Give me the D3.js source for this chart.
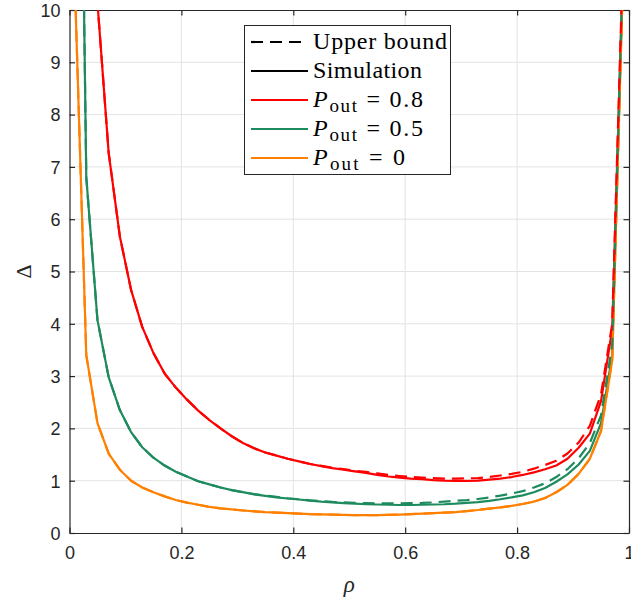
<!DOCTYPE html>
<html>
  <head>
    <meta charset="utf-8">
    <title></title>
    <script src="https://d3js.org/d3.v7.min.js"></script>
    <style>
    body{margin:0; background:white;}
    svg{display:block; background-color:white;}
    .tick text{font-family:"Liberation Sans", Arial, sans-serif; font-size:18px; fill:#262626;}
    </style>
  </head>
  <body>
    <script>
    // sample points rho = 0.01, 0.03, ..., 0.99
    var rho = [0.01,0.03,0.05,0.07,0.09,0.11,0.13,0.15,0.17,0.19,
               0.21,0.23,0.25,0.27,0.29,0.31,0.33,0.35,0.37,0.39,
               0.41,0.43,0.45,0.47,0.49,0.51,0.53,0.55,0.57,0.59,
               0.61,0.63,0.65,0.67,0.69,0.71,0.73,0.75,0.77,0.79,
               0.81,0.83,0.85,0.87,0.89,0.91,0.93,0.95,0.97,0.99];

    // simulation, P_out = 0.8 / 0.5 / 0
    var simRed = [48,16.5,10.14,7.27,5.67,4.65,3.94,3.44,3.05,2.78,
                  2.55,2.34,2.16,2.00,1.85,1.72,1.62,1.54,1.48,1.42,
                  1.37,1.32,1.28,1.24,1.21,1.18,1.15,1.11,1.08,1.06,
                  1.04,1.03,1.01,1.00,0.995,0.995,1.00,1.02,1.04,1.07,
                  1.11,1.16,1.22,1.29,1.42,1.63,1.90,2.52,3.9,11.1];
    var simGreen = [22.8,6.8,4.07,2.98,2.35,1.93,1.64,1.44,1.29,1.17,
                    1.08,0.99,0.93,0.87,0.82,0.78,0.74,0.71,0.68,0.66,
                    0.64,0.62,0.60,0.585,0.57,0.56,0.55,0.545,0.54,0.535,
                    0.535,0.54,0.545,0.55,0.56,0.575,0.59,0.615,0.645,0.68,
                    0.72,0.78,0.86,0.98,1.12,1.31,1.57,2.1,3.4,11.0];
    var simOrange = [10.35,3.4,2.1,1.52,1.21,1.0,0.87,0.78,0.70,0.63,
                     0.58,0.54,0.50,0.47,0.45,0.43,0.415,0.40,0.39,0.38,
                     0.37,0.36,0.355,0.35,0.345,0.343,0.342,0.343,0.347,0.352,
                     0.36,0.37,0.38,0.39,0.40,0.42,0.44,0.465,0.49,0.52,
                     0.555,0.60,0.67,0.78,0.92,1.13,1.42,1.95,3.3,10.9];

    // upper bound
    var boundRed = [48,16.5,10.14,7.27,5.67,4.65,3.94,3.44,3.05,2.78,
                    2.55,2.34,2.16,2.00,1.85,1.72,1.62,1.54,1.48,1.42,
                    1.37,1.32,1.285,1.25,1.22,1.19,1.17,1.14,1.11,1.09,
                    1.07,1.06,1.05,1.04,1.04,1.045,1.05,1.07,1.10,1.13,
                    1.17,1.23,1.30,1.38,1.52,1.73,2.05,2.65,4.0,11.3];
    var boundGreen = [22.8,6.8,4.07,2.98,2.35,1.93,1.64,1.44,1.29,1.17,
                      1.08,0.99,0.93,0.87,0.82,0.78,0.745,0.715,0.69,0.665,
                      0.645,0.625,0.61,0.595,0.585,0.575,0.57,0.565,0.565,0.565,
                      0.57,0.575,0.585,0.60,0.615,0.63,0.65,0.68,0.715,0.755,
                      0.80,0.87,0.95,1.07,1.22,1.43,1.72,2.25,3.6,11.2];
    var boundOrange = simOrange;

    var xTicks = [0,0.2,0.4,0.6,0.8,1];
    var xTickLabels = ["0","0.2","0.4","0.6","0.8","1"];
    var yTicks = [0,1,2,3,4,5,6,7,8,9,10];

    var legendNames = ["Upper bound","Simulation","0.8","0.5","0"];

    var width = 631, height = 597;
    var mLeft = 69.5, mRight = 629, mTop = 10, mBottom = 533;
    var red = "#ff0000", green = "#1e8b5e", orange = "#ff8000";

    var svg = d3.select("body").append("svg").attr("width", width).attr("height", height);

    var x = d3.scaleLinear().domain([0,1]).range([mLeft,mRight]);
    var y = d3.scaleLinear().domain([0,10]).range([mBottom,mTop]);

    // grid
    svg.append("g").selectAll("line").data(xTicks.slice(1,-1)).enter().append("line")
      .attr("x1", d=>x(d)).attr("x2", d=>x(d)).attr("y1", mTop).attr("y2", mBottom)
      .attr("stroke","#e3e3e3").attr("stroke-width",1);
    svg.append("g").selectAll("line").data(yTicks.slice(1,-1)).enter().append("line")
      .attr("x1", mLeft).attr("x2", mRight).attr("y1", d=>y(d)).attr("y2", d=>y(d))
      .attr("stroke","#e3e3e3").attr("stroke-width",1);

    // axes
    var fmt = function(d){ return xTickLabels[xTicks.indexOf(d)]; };
    var gx = svg.append("g").attr("transform","translate(0,"+mBottom+")")
      .call(d3.axisBottom(x).tickValues(xTicks).tickFormat(fmt).tickSizeInner(-5.5).tickSizeOuter(0).tickPadding(17));
    var gxt = svg.append("g").attr("transform","translate(0,"+mTop+")")
      .call(d3.axisTop(x).tickValues(xTicks).tickFormat("").tickSizeInner(-5.5).tickSizeOuter(0));
    var gy = svg.append("g").attr("transform","translate("+mLeft+",0)")
      .call(d3.axisLeft(y).tickValues(yTicks).tickFormat(d3.format("d")).tickSizeInner(-5.5).tickSizeOuter(0).tickPadding(9));
    var gyr = svg.append("g").attr("transform","translate("+mRight+",0)")
      .call(d3.axisRight(y).tickValues(yTicks).tickFormat("").tickSizeInner(-5.5).tickSizeOuter(0));
    [gx,gxt,gy,gyr].forEach(function(g){
      g.selectAll("path,line").attr("stroke","#262626").attr("stroke-width",1.2);
    });
    gx.selectAll(".tick text").attr("dy","0.5em");
    gy.selectAll(".tick text").attr("dy","0.35em");

    // lines
    svg.append("clipPath").attr("id","clip").append("rect")
      .attr("x",mLeft).attr("y",mTop).attr("width",mRight-mLeft).attr("height",mBottom-mTop);
    var plot = svg.append("g").attr("clip-path","url(#clip)");
    var line = d3.line().x((d,i)=>x(rho[i])).y(d=>y(d));

    var series = [
      {v:simRed, c:red, dash:null},
      {v:simGreen, c:green, dash:null},
      {v:simOrange, c:orange, dash:null},
      {v:boundOrange, c:orange, dash:"12,7"},
      {v:boundGreen, c:green, dash:"12,7"},
      {v:boundRed, c:red, dash:"12,7"}
    ];
    series.forEach(function(s){
      plot.append("path").datum(s.v).attr("d", line)
        .attr("fill","none").attr("stroke",s.c).attr("stroke-width",2.2)
        .attr("stroke-linejoin","round")
        .attr("stroke-dasharray",s.dash);
    });

    // legend
    var lg = svg.append("g");
    lg.append("rect").attr("x",244.5).attr("y",25.5).attr("width",206).attr("height",149)
      .attr("fill","white").attr("stroke","#262626").attr("stroke-width",1);
    var legColors = ["#000","#000",red,green,orange];
    var legDash = ["12,7",null,null,null,null];
    var legWidths = [134,109,110,110,92];
    legendNames.forEach(function(name,i){
      var cy = 42 + i*29;
      lg.append("line").attr("x1",251).attr("x2",308).attr("y1",cy).attr("y2",cy)
        .attr("stroke",legColors[i]).attr("stroke-width",2.2).attr("stroke-dasharray",legDash[i]);
      var t = lg.append("text").attr("x",313).attr("y",cy+7)
        .attr("font-family","'Liberation Serif', 'DejaVu Serif', serif").attr("font-size",24).attr("fill","#000")
        .attr("textLength",legWidths[i]).attr("lengthAdjust","spacing");
      if(i < 2){
        t.text(name);
      } else {
        t.append("tspan").attr("font-style","italic").text("P");
        t.append("tspan").attr("font-size",19).attr("dy",5).text("out");
        t.append("tspan").attr("dy",-5).text(" = " + name);
      }
    });

    // axis labels
    svg.append("text").attr("transform","translate(31,"+((mTop+mBottom)/2)+") rotate(-90)")
      .attr("text-anchor","middle").attr("font-family","'Liberation Serif', serif")
      .attr("font-size",22).attr("fill","#262626").text("Δ");
    svg.append("text").attr("x",(mLeft+mRight)/2).attr("y",592)
      .attr("text-anchor","middle").attr("font-family","'Liberation Serif', serif").attr("font-style","italic")
      .attr("font-size",23).attr("fill","#262626").text("ρ");
    </script>
  </body>
</html>
